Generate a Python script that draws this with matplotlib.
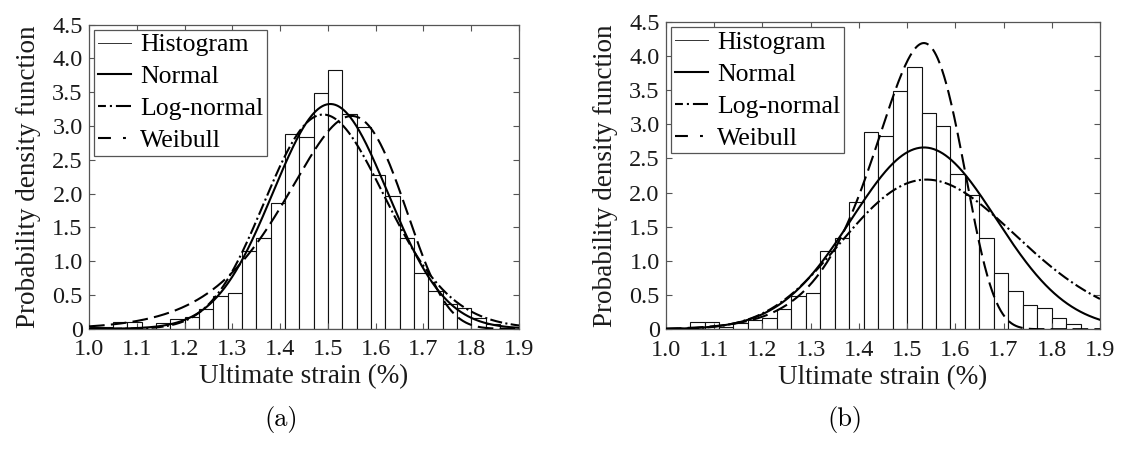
import numpy as np
import matplotlib
matplotlib.use("Agg")
import matplotlib.pyplot as plt
from matplotlib.lines import Line2D

# Histogram of ultimate strain (%), density-normalised, bin width 0.03
bin_left = [0.99, 1.02, 1.05, 1.08, 1.11, 1.14, 1.17, 1.20, 1.23, 1.26,
            1.29, 1.32, 1.35, 1.38, 1.41, 1.44, 1.47, 1.50, 1.53, 1.56,
            1.59, 1.62, 1.65, 1.68, 1.71, 1.74, 1.77, 1.80, 1.83]
density = [0.02, 0.02, 0.10, 0.10, 0.03, 0.09, 0.14, 0.17, 0.30, 0.48,
           0.53, 1.15, 1.34, 1.86, 2.88, 2.83, 3.49, 3.83, 3.17, 2.98,
           2.27, 1.96, 1.34, 0.82, 0.56, 0.36, 0.31, 0.16, 0.07]
bin_width = 0.03

# Fitted distribution parameters for each panel
normal_a = (1.505, 0.120)        # mean, std
lognormal_a = (0.4059, 0.0842)   # mu, sigma of ln(x)
weibull_a = (1.559, 13.3)        # scale, shape

normal_b = (1.535, 0.150)
lognormal_b = (0.4456, 0.1175)
weibull_b = (1.540, 17.5)

x_ticks = [1.0, 1.1, 1.2, 1.3, 1.4, 1.5, 1.6, 1.7, 1.8, 1.9]
y_ticks = [0, 0.5, 1.0, 1.5, 2.0, 2.5, 3.0, 3.5, 4.0, 4.5]
y_ticklabels = ["0", "0.5", "1.0", "1.5", "2.0", "2.5", "3.0", "3.5", "4.0", "4.5"]
legend_labels = ["Histogram", "Normal", "Log-normal", "Weibull"]
panel_tags = ["(a)", "(b)"]


def normal_pdf(x, mu, sd):
    return np.exp(-0.5 * ((x - mu) / sd) ** 2) / (sd * np.sqrt(2 * np.pi))


def lognormal_pdf(x, mu, s):
    return np.exp(-0.5 * ((np.log(x) - mu) / s) ** 2) / (x * s * np.sqrt(2 * np.pi))


def weibull_pdf(x, lam, k):
    r = x / lam
    return (k / lam) * r ** (k - 1) * np.exp(-r ** k)


plt.rcParams["font.family"] = ["Liberation Serif", "DejaVu Serif"]
plt.rcParams["mathtext.fontset"] = "cm"

LW = 1.5
LN_DASH = (5.8, 1.6, 1.0, 1.6)
WB_DASH = (7.5, 3.0)
# short legend samples of the same two styles
LN_DASH_KEY = (3.8, 1.9, 1.0, 1.9, 10.0, 1.9)
WB_DASH_KEY = (6.2, 5.8, 1.4, 10.0)
SPINE = "#555555"
TEXT = "#1a1a1a"

fig = plt.figure(figsize=(11.23, 4.49), dpi=100)
ax_a = fig.add_axes([0.0793, 0.2677, 0.3829, 0.6777])
ax_b = fig.add_axes([0.5930, 0.2668, 0.3865, 0.6849])

xs = np.linspace(1.0, 1.9, 600)
panels = [
    (ax_a, normal_a, lognormal_a, weibull_a),
    (ax_b, normal_b, lognormal_b, weibull_b),
]

for ax, nrm, lgn, wbl in panels:
    ax.bar(bin_left, density, width=bin_width, align="edge",
           facecolor="white", edgecolor="#111111", linewidth=0.8, zorder=1)
    ax.plot(xs, normal_pdf(xs, *nrm), color="black", lw=LW, zorder=3)
    ax.plot(xs, lognormal_pdf(xs, *lgn), color="black", lw=LW,
            dashes=LN_DASH, zorder=3)
    ax.plot(xs, weibull_pdf(xs, *wbl), color="black", lw=LW,
            dashes=WB_DASH, zorder=3)

    ax.set_xlim(1.0, 1.9)
    ax.set_ylim(0, 4.5)
    ax.set_xticks(x_ticks)
    ax.set_xticklabels([f"{v:.1f}" for v in x_ticks])
    ax.set_yticks(y_ticks)
    ax.set_yticklabels(y_ticklabels)
    ax.tick_params(direction="in", top=True, right=True, length=4,
                   width=0.8, color=SPINE, labelsize=17.5, labelcolor=TEXT)
    ax.tick_params(axis="x", pad=7.5)
    ax.tick_params(axis="y", pad=4.5)
    for sp in ax.spines.values():
        sp.set_color(SPINE)
        sp.set_linewidth(0.9)
    ax.set_xlabel("Ultimate strain (%)", fontsize=19.5, labelpad=3,
                  color=TEXT)
    ax.set_ylabel("Probability density function", fontsize=19.5,
                  labelpad=8, color=TEXT)

    handles = [
        Line2D([], [], color="#333333", lw=0.7),
        Line2D([], [], color="black", lw=LW),
        Line2D([], [], color="black", lw=LW, dashes=LN_DASH_KEY),
        Line2D([], [], color="black", lw=LW, dashes=WB_DASH_KEY),
    ]
    leg = ax.legend(handles, legend_labels, loc="upper left", fontsize=18.5,
                    frameon=True, fancybox=False, framealpha=1,
                    edgecolor=SPINE, borderaxespad=0.2, borderpad=0.15,
                    handlelength=1.3, handletextpad=0.35, labelspacing=0.35)
    leg.get_frame().set_linewidth(0.9)

fig.text(0.25, 0.065, panel_tags[0], fontsize=19, ha="center", va="center",
         family="cmr10")
fig.text(0.752, 0.065, panel_tags[1], fontsize=19, ha="center", va="center",
         family="cmr10")

fig.savefig("out.png", dpi=100)
